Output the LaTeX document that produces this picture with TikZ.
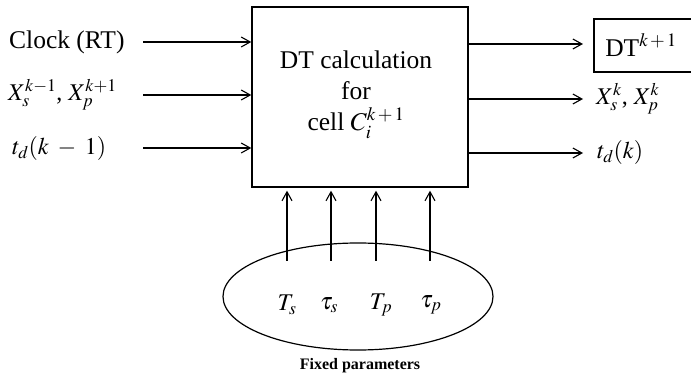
\documentclass[tikz,border=0pt]{standalone}
\usepackage{mathptmx}
\usepackage{fontspec}
\setmainfont{Liberation Serif}
\usetikzlibrary{arrows.meta,shapes.geometric}
\begin{document}
\begin{tikzpicture}[x=1pt,y=-1pt,
  arr/.style={line width=1.1pt,-{Straight Barb[length=9pt,width=10pt,line width=1.1pt]}},
  lbl/.style={font=\fontsize{25.5}{30}\selectfont,inner sep=0pt},
  mlbl/.style={font=\fontsize{24}{28}\selectfont,inner sep=0pt},
  frame/.style={draw,line width=1.4pt,inner sep=0pt}]
\useasboundingbox (0,0) rectangle (691,387);
% main box
\node[frame,minimum width=216pt,minimum height=180pt] (box) at (360,97) {};
\node[lbl,align=center] (boxtxt) at (356,95) {DT calculation\\[1pt]for\\[1pt]cell $C_i^{k\,+\,1}$};
% inputs
\node[lbl,anchor=west] (clk) at (9,42) {Clock (RT)};
\node[mlbl,anchor=west] (xin) at (8,95) {$X_s^{k-1}$, $X_p^{k+1}$};
\node[mlbl,anchor=west] (tin) at (12,149) {$t_d(k\;-\;1)$};
\coordinate (c1) at (143,42);
\coordinate (c2) at (143,95);
\coordinate (c3) at (143,148);
\draw[arr] (c1) -- (c1 -| box.west);
\draw[arr] (c2) -- (c2 -| box.west);
\draw[arr] (c3) -- (c3 -| box.west);
% outputs
\coordinate (o1) at (583,44);
\coordinate (o2) at (583,99);
\coordinate (o3) at (583,153);
\draw[arr] (o1 -| box.east) -- (o1);
\draw[arr] (o2 -| box.east) -- (o2);
\draw[arr] (o3 -| box.east) -- (o3);
\draw[line width=1.1pt] (691,19) -- (594,19) -- (594,72) -- (691,72);
\node[lbl] (dtout) at (641,45) {DT$^{k\,+\,1}$};
\node[mlbl,anchor=west] (xout) at (596,99) {$X_s^{k}$, $X_p^{k}$};
\node[mlbl,anchor=west] (tout) at (597,153) {$t_d(k)$};
% ellipse
\node[draw,ellipse,line width=1.2pt,minimum width=270pt,minimum height=107pt,inner sep=0pt] (fix) at (358,296.5) {};
\node[mlbl] (ts) at (287,305) {$T_s$};
\node[mlbl] (taus) at (329,305) {$\tau_s$};
\node[mlbl] (tp) at (381,305) {$T_p$};
\node[mlbl] (taup) at (431,305) {$\tau_p$};
\coordinate (p1) at (287,261);
\coordinate (p2) at (331,261);
\coordinate (p3) at (376,261);
\coordinate (p4) at (430,261);
\draw[arr,shorten >=3pt] (p1) -- (p1 |- box.south);
\draw[arr,shorten >=3pt] (p2) -- (p2 |- box.south);
\draw[arr,shorten >=3pt] (p3) -- (p3 |- box.south);
\draw[arr,shorten >=3pt] (p4) -- (p4 |- box.south);
\node[font=\fontsize{16}{19}\selectfont\bfseries,inner sep=0pt] (fixlbl) at (360,366) {Fixed parameters};
\end{tikzpicture}
\end{document}
